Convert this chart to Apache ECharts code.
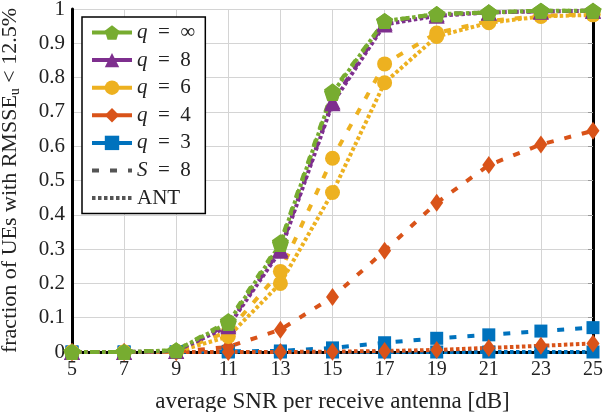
<!DOCTYPE html>
<html>
<head>
<meta charset="utf-8">
<script src="https://cdn.jsdelivr.net/npm/echarts@6/dist/echarts.min.js"></script>
<style>
  html, body { margin: 0; padding: 0; background: #fff; }
  #chart { width: 606px; height: 412px; }
</style>
</head>
<body>
<div id="chart"></div>
<script>
// SNR per receive antenna [dB]
const snr = ["5", "7", "9", "11", "13", "15", "17", "19", "21", "23", "25"];

// fraction of UEs, S = 8 (dashed) and ANT (dotted)
const qInfS8 = [0, 0, 0.005, 0.09, 0.32, 0.76, 0.965, 0.985, 0.99, 0.995, 0.995];
const qInfAnt = [0, 0, 0.005, 0.085, 0.315, 0.755, 0.965, 0.985, 0.99, 0.995, 0.995];
const q8S8 = [0, 0, 0.003, 0.08, 0.3, 0.73, 0.96, 0.985, 0.99, 0.993, 0.995];
const q8Ant = [0, 0, 0.003, 0.075, 0.295, 0.725, 0.955, 0.98, 0.99, 0.993, 0.995];
const q6S8 = [0, 0, 0.002, 0.06, 0.235, 0.565, 0.84, 0.93, 0.965, 0.98, 0.985];
const q6Ant = [0, 0, 0.001, 0.045, 0.2, 0.465, 0.785, 0.92, 0.96, 0.978, 0.983];
const q4S8 = [0, 0, 0, 0.015, 0.065, 0.16, 0.295, 0.435, 0.545, 0.605, 0.645];
const q4Ant = [0, 0, 0, 0, 0, 0.001, 0.003, 0.006, 0.012, 0.018, 0.025];
const q3S8 = [0, 0, 0, 0.002, 0.003, 0.012, 0.027, 0.04, 0.05, 0.061, 0.071];
const q3Ant = [0, 0, 0, 0, 0, 0, 0, 0, 0, 0, 0];

const legendNames = ["q=∞", "q=8", "q=6", "q=4", "q=3", "S=8", "ANT"];

const font = "Liberation Serif";
const pentagon = "path://M0,-1L0.951,-0.309L0.588,0.809L-0.588,0.809L-0.951,-0.309Z";

const dashS8 = [7, 11];
const dotAnt = [3.5, 2.5];

// one entry per q: colour, marker, size, and its two curves
const groups = [
  { name: "q=3", color: "#0072BD", symbol: "rect", size: 13, s8: q3S8, ant: q3Ant },
  { name: "q=4", color: "#D95319", symbol: "diamond", size: [13, 18], s8: q4S8, ant: q4Ant },
  { name: "q=6", color: "#EDB120", symbol: "circle", size: 15, s8: q6S8, ant: q6Ant },
  { name: "q=8", color: "#7E2F8E", symbol: "triangle", size: 16, s8: q8S8, ant: q8Ant },
  { name: "q=∞", color: "#77AC30", symbol: pentagon, size: 17, s8: qInfS8, ant: qInfAnt },
];

function curva(nombre, g, datos, dash) {
  return {
    name: nombre,
    type: "line",
    data: datos,
    symbol: g.symbol,
    symbolSize: g.size,
    symbolKeepAspect: true,
    showAllSymbol: true,
    color: g.color,
    itemStyle: { color: g.color, borderWidth: 0 },
    lineStyle: { color: g.color, width: 4, type: dash },
    emphasis: { disabled: true },
    animation: false,
  };
}

const series = [];
groups.forEach((g) => {
  series.push(curva(g.name + " S8", g, g.s8, dashS8));
  series.push(curva(g.name + " ANT", g, g.ant, dotAnt));
});

// legend-only series
groups.forEach((g) => {
  series.push({
    name: g.name,
    type: "line",
    data: [],
    symbol: g.symbol,
    symbolKeepAspect: true,
    color: g.color,
    itemStyle: { color: g.color },
    lineStyle: { color: g.color, width: 4 },
  });
});
series.push({ name: "S=8", type: "line", data: [], symbol: "none", color: "#555", lineStyle: { color: "#555", width: 4, type: dashS8 } });
series.push({ name: "ANT", type: "line", data: [], symbol: "none", color: "#555", lineStyle: { color: "#555", width: 4, type: dotAnt } });

const axisText = { color: "#222", fontFamily: font, fontSize: 20 };

const option = {
  animation: false,
  grid: { left: 72, right: 13, top: 9, bottom: 60, containLabel: false, outerBoundsMode: "none" },
  legend: {
    data: legendNames.map((n) =>
      n === "S=8" || n === "ANT" ? { name: n, itemStyle: { opacity: 0 } } : { name: n }
    ),
    orient: "vertical",
    left: 82,
    top: 17,
    itemWidth: 40,
    itemHeight: 18,
    itemGap: 6.6,
    padding: [5, 10, 5, 8],
    backgroundColor: "#fff",
    borderColor: "#000",
    borderWidth: 1.5,
    selectedMode: false,
    lineStyle: { width: 4 },
    formatter: (n) => {
      if (n === "ANT") return "ANT";
      const p = n.split("=");
      return "{i|" + p[0] + "}\u2002=\u2002" + p[1];
    },
    textStyle: {
      color: "#222",
      fontFamily: font,
      fontSize: 21,
      rich: { i: { fontStyle: "italic", fontFamily: font, fontSize: 21, color: "#222" } },
    },
  },
  xAxis: [
    {
      type: "category",
      data: snr,
      boundaryGap: false,
      axisLine: { lineStyle: { color: "#000", width: 3 } },
      axisTick: { show: false },
      axisLabel: { ...axisText, margin: 8 },
      splitLine: { show: true, lineStyle: { color: "#d4d4d4", width: 1 } },
      name: "average SNR per receive antenna [dB]",
      nameLocation: "middle",
      nameGap: 38,
      nameTextStyle: { ...axisText, fontSize: 23 },
    },
    {
      type: "category",
      data: snr,
      boundaryGap: false,
      position: "top",
      axisLine: { lineStyle: { color: "#000", width: 3 } },
      axisTick: { show: false },
      axisLabel: { show: false },
      splitLine: { show: false },
    },
  ],
  yAxis: [
    {
      type: "value",
      min: 0,
      max: 1,
      interval: 0.1,
      axisLine: { show: true, lineStyle: { color: "#000", width: 3 } },
      axisTick: { show: false },
      axisLabel: { ...axisText, fontSize: 21, margin: 7 },
      splitLine: { show: true, lineStyle: { color: "#d4d4d4", width: 1 } },
      name: "fraction of UEs with RMSSE{sub|u} < 12.5%",
      nameLocation: "middle",
      nameGap: 50,
      nameTextStyle: {
        ...axisText,
        fontSize: 22,
        rich: { sub: { fontFamily: font, fontSize: 14, color: "#222", verticalAlign: "bottom", padding: [9, 0, 0, 0] } },
      },
    },
    {
      type: "value",
      min: 0,
      max: 1,
      interval: 0.1,
      position: "right",
      axisLine: { show: true, lineStyle: { color: "#000", width: 3 } },
      axisTick: { show: true, inside: true, length: 5, lineStyle: { color: "#999" } },
      axisLabel: { show: false },
      splitLine: { show: false },
    },
  ],
  series: series,
};

const chart = echarts.init(document.getElementById("chart"), null, { renderer: "canvas" });
chart.setOption(option);
</script>
</body>
</html>
